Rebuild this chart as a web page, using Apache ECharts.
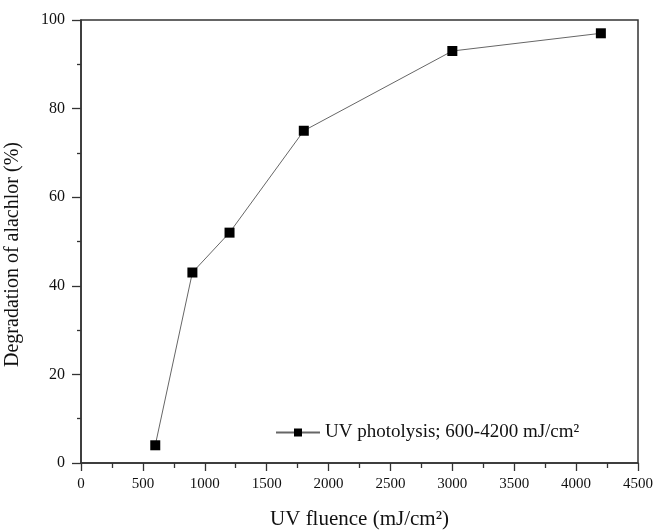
<!DOCTYPE html>
<html lang="en">
<head>
  <meta charset="utf-8" />
  <title>UV photolysis of alachlor</title>
  <script src="https://cdn.jsdelivr.net/npm/echarts@6.0.0/dist/echarts.min.js"></script>
  <style>
    html, body { margin: 0; padding: 0; background: #fff; }
  </style>
</head>
<body>
  <div id="main" style="width: 654px;height:531px;"></div>
  <script>
    // data
    var fluence = [600, 900, 1200, 1800, 3000, 4200];
    var degradation = [4, 43, 52, 75, 93, 97];
    var seriesName = 'UV photolysis; 600-4200 mJ/cm\u00b2';

    var axisColor = '#333';
    var textColor = '#111';
    var font = 'Liberation Serif';

    var chartDom = document.getElementById('main');
    var myChart = echarts.init(chartDom);

    var points = fluence.map(function (x, i) { return [x, degradation[i]]; });

    var option = {
      animation: false,
      textStyle: { fontFamily: font },
      grid: {
        left: 81,
        right: 16,
        top: 20,
        bottom: 68,
        show: true,
        borderColor: axisColor,
        borderWidth: 1.5,
        outerBoundsMode: 'none'
      },
      legend: {
        data: [seriesName],
        left: 270,
        top: 418,
        itemWidth: 44,
        itemHeight: 10,
        itemGap: 6,
        textStyle: { fontFamily: font, fontSize: 19, color: textColor }
      },
      xAxis: {
        type: 'value',
        min: 0,
        max: 4500,
        interval: 500,
        name: 'UV fluence (mJ/cm\u00b2)',
        nameLocation: 'middle',
        nameGap: 46,
        nameTextStyle: { fontFamily: font, fontSize: 21, color: textColor },
        axisLine: { show: true, lineStyle: { color: axisColor, width: 1.5 } },
        axisTick: { show: true, inside: false, length: 8, lineStyle: { color: axisColor, width: 1.3 } },
        minorTick: { show: true, splitNumber: 2, length: 5, lineStyle: { color: axisColor, width: 1.3 } },
        axisLabel: {
          fontFamily: font, fontSize: 15, color: textColor, margin: 14,
          formatter: function (v) { return String(v); }
        },
        splitLine: { show: false }
      },
      yAxis: {
        type: 'value',
        min: 0,
        max: 100,
        interval: 20,
        name: 'Degradation of alachlor (%)',
        nameLocation: 'middle',
        nameGap: 58,
        nameTextStyle: { fontFamily: font, fontSize: 20, color: textColor, padding: [0, 26, 0, 0] },
        axisLine: { show: true, lineStyle: { color: axisColor, width: 1.5 } },
        axisTick: { show: true, inside: false, length: 9, lineStyle: { color: axisColor, width: 1.3 } },
        minorTick: { show: true, splitNumber: 2, length: 4, lineStyle: { color: axisColor, width: 1.3 } },
        axisLabel: { fontFamily: font, fontSize: 16, color: textColor, margin: 16 },
        splitLine: { show: false }
      },
      series: [
        {
          name: seriesName,
          type: 'line',
          data: points,
          symbol: 'rect',
          symbolSize: 10,
          itemStyle: { color: '#000' },
          lineStyle: { color: '#666', width: 1 }
        }
      ]
    };

    myChart.setOption(option);
  </script>
</body>
</html>
